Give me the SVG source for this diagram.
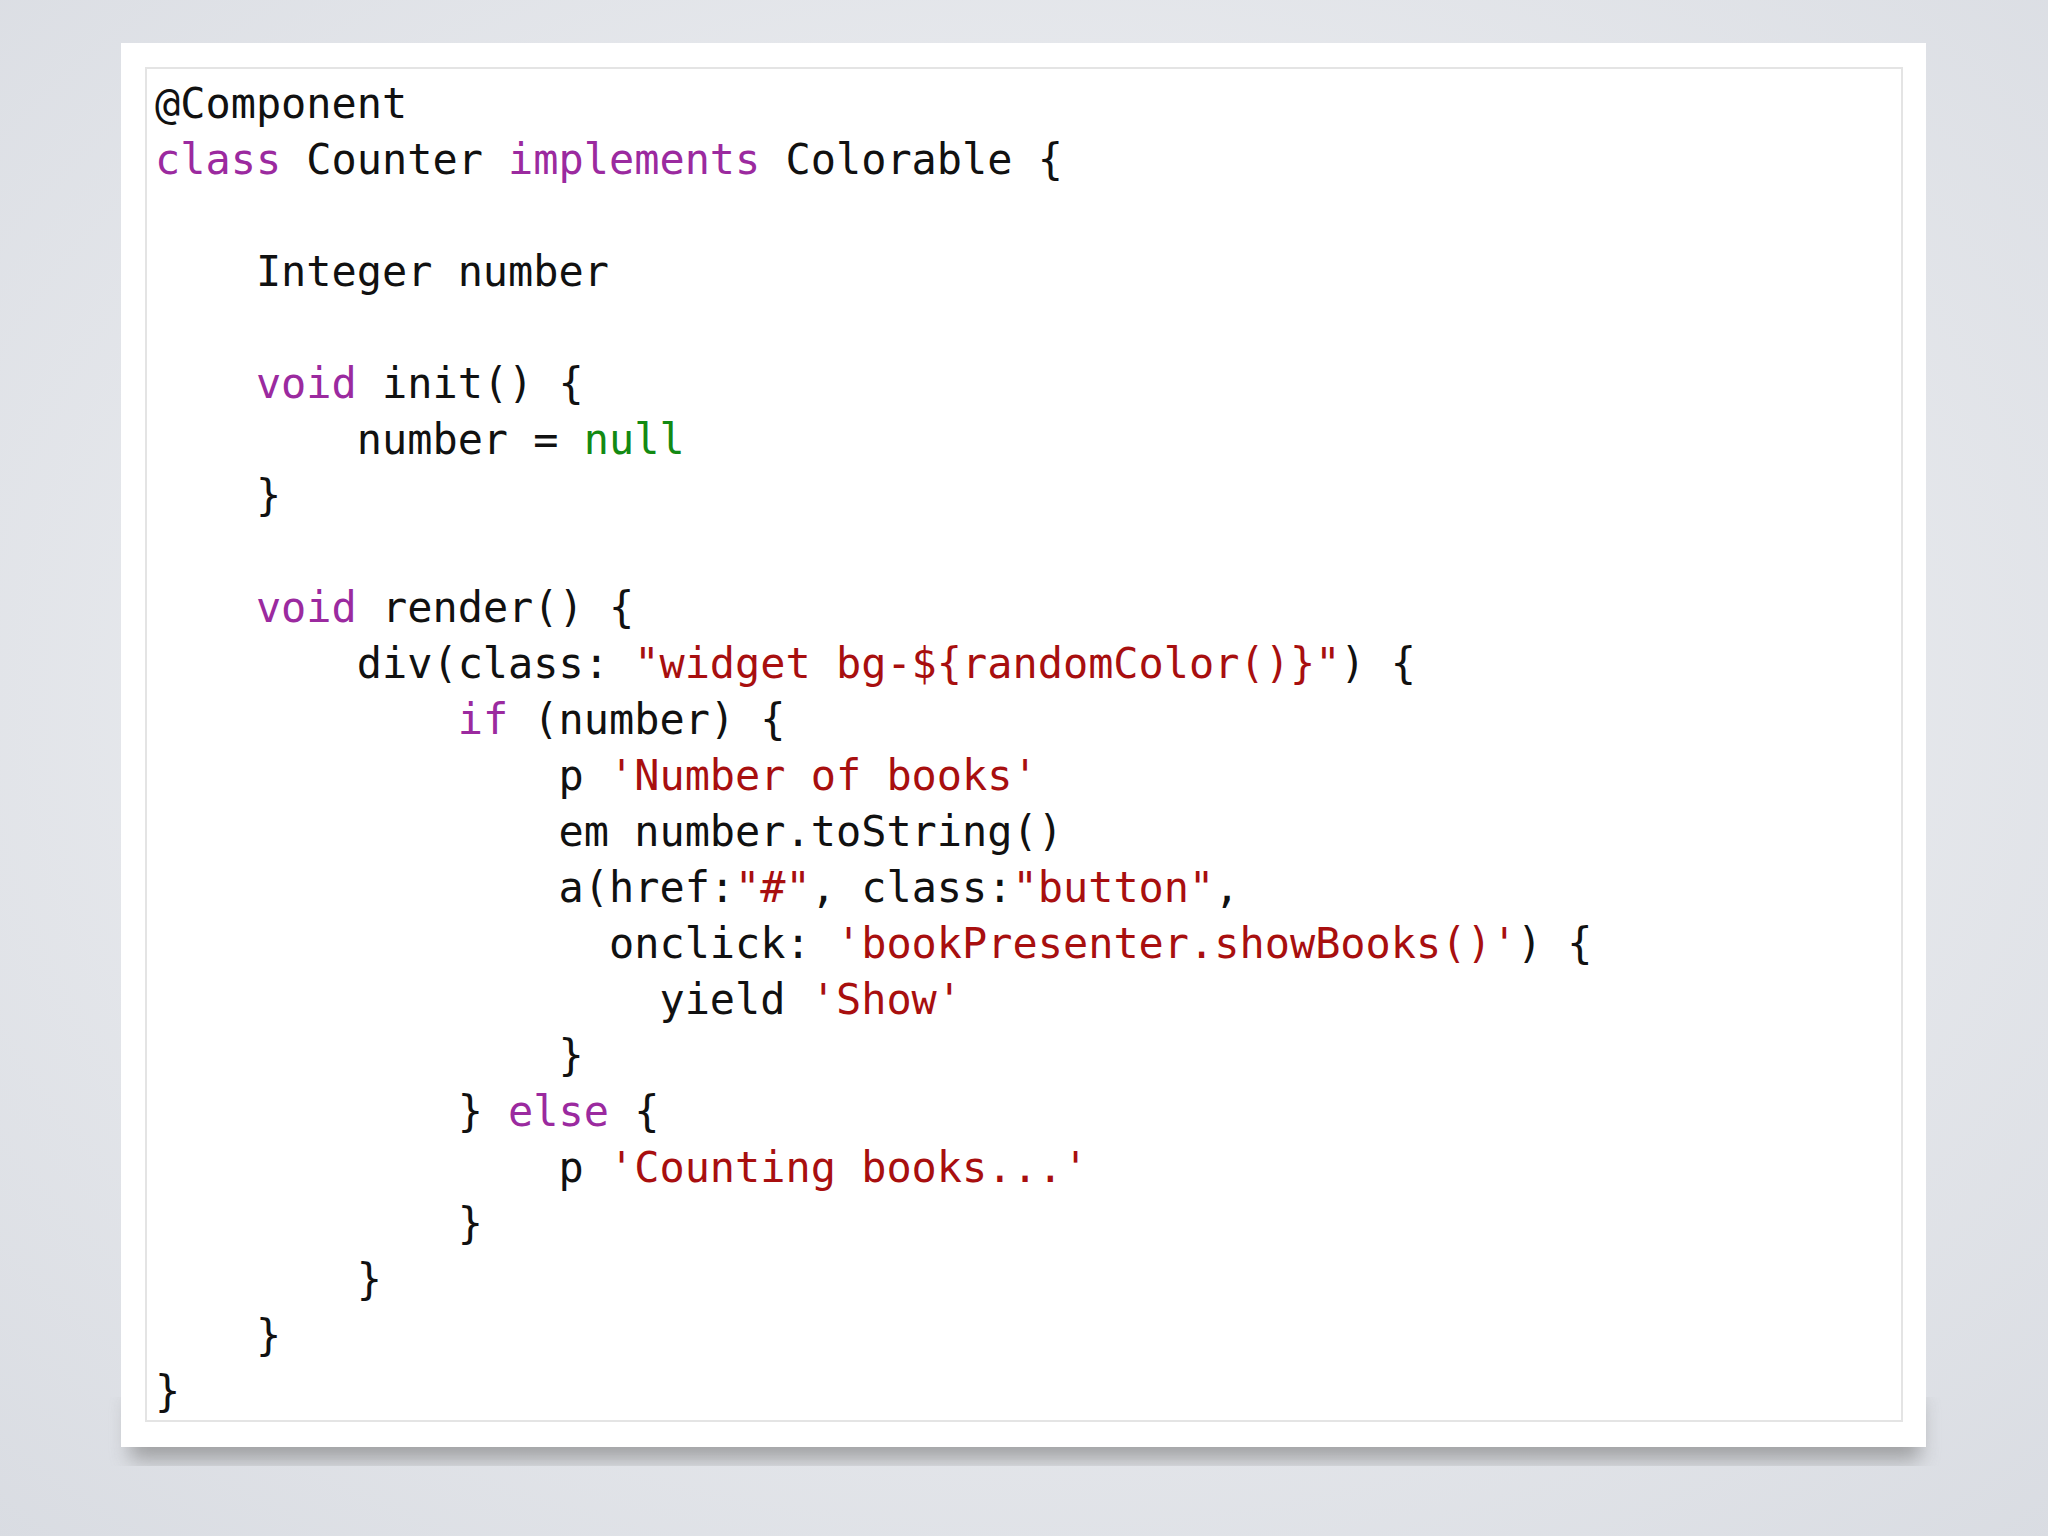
<svg xmlns="http://www.w3.org/2000/svg" width="2048" height="1536" viewBox="0 0 2048 1536">
<defs>
<radialGradient id="bg" cx="50%" cy="45%" r="75%"><stop offset="0" stop-color="#f4f5f7"/><stop offset="1" stop-color="#d9dce2"/></radialGradient>
<filter id="sh" x="-5%" y="-5%" width="110%" height="115%"><feGaussianBlur stdDeviation="10"/></filter>
<style>
text{font-family:"DejaVu Sans Mono","Liberation Mono",monospace;font-size:41.9px;fill:#111;white-space:pre}
.k{fill:#9b2a9f}.s{fill:#a80f0f}.n{fill:#138a13}
</style>
</defs>
<rect width="2048" height="1536" fill="url(#bg)"/>
<rect x="130" y="1400" width="1790" height="60" fill="#777" opacity="0.6" filter="url(#sh)"/>
<g id="card">
<rect x="121" y="43" width="1805" height="1404" fill="#fff"/>
<rect x="146" y="68" width="1756" height="1353" fill="none" stroke="#e4e4e4" stroke-width="2"/>
</g>
<g id="code" xml:space="preserve">
<text x="155" y="118">@Component</text>
<text x="155" y="174"><tspan class="k">class</tspan> Counter <tspan class="k">implements</tspan> Colorable {</text>
<text x="155" y="286">    Integer number</text>
<text x="155" y="398">    <tspan class="k">void</tspan> init() {</text>
<text x="155" y="454">        number = <tspan class="n">null</tspan></text>
<text x="155" y="510">    }</text>
<text x="155" y="622">    <tspan class="k">void</tspan> render() {</text>
<text x="155" y="678">        div(class: <tspan class="s">"widget bg-${randomColor()}"</tspan>) {</text>
<text x="155" y="734">            <tspan class="k">if</tspan> (number) {</text>
<text x="155" y="790">                p <tspan class="s">'Number of books'</tspan></text>
<text x="155" y="846">                em number.toString()</text>
<text x="155" y="902">                a(href:<tspan class="s">"#"</tspan>, class:<tspan class="s">"button"</tspan>,</text>
<text x="155" y="958">                  onclick: <tspan class="s">'bookPresenter.showBooks()'</tspan>) {</text>
<text x="155" y="1014">                    yield <tspan class="s">'Show'</tspan></text>
<text x="155" y="1070">                }</text>
<text x="155" y="1126">            } <tspan class="k">else</tspan> {</text>
<text x="155" y="1182">                p <tspan class="s">'Counting books...'</tspan></text>
<text x="155" y="1238">            }</text>
<text x="155" y="1294">        }</text>
<text x="155" y="1350">    }</text>
<text x="155" y="1406">}</text>
</g>
</svg>
